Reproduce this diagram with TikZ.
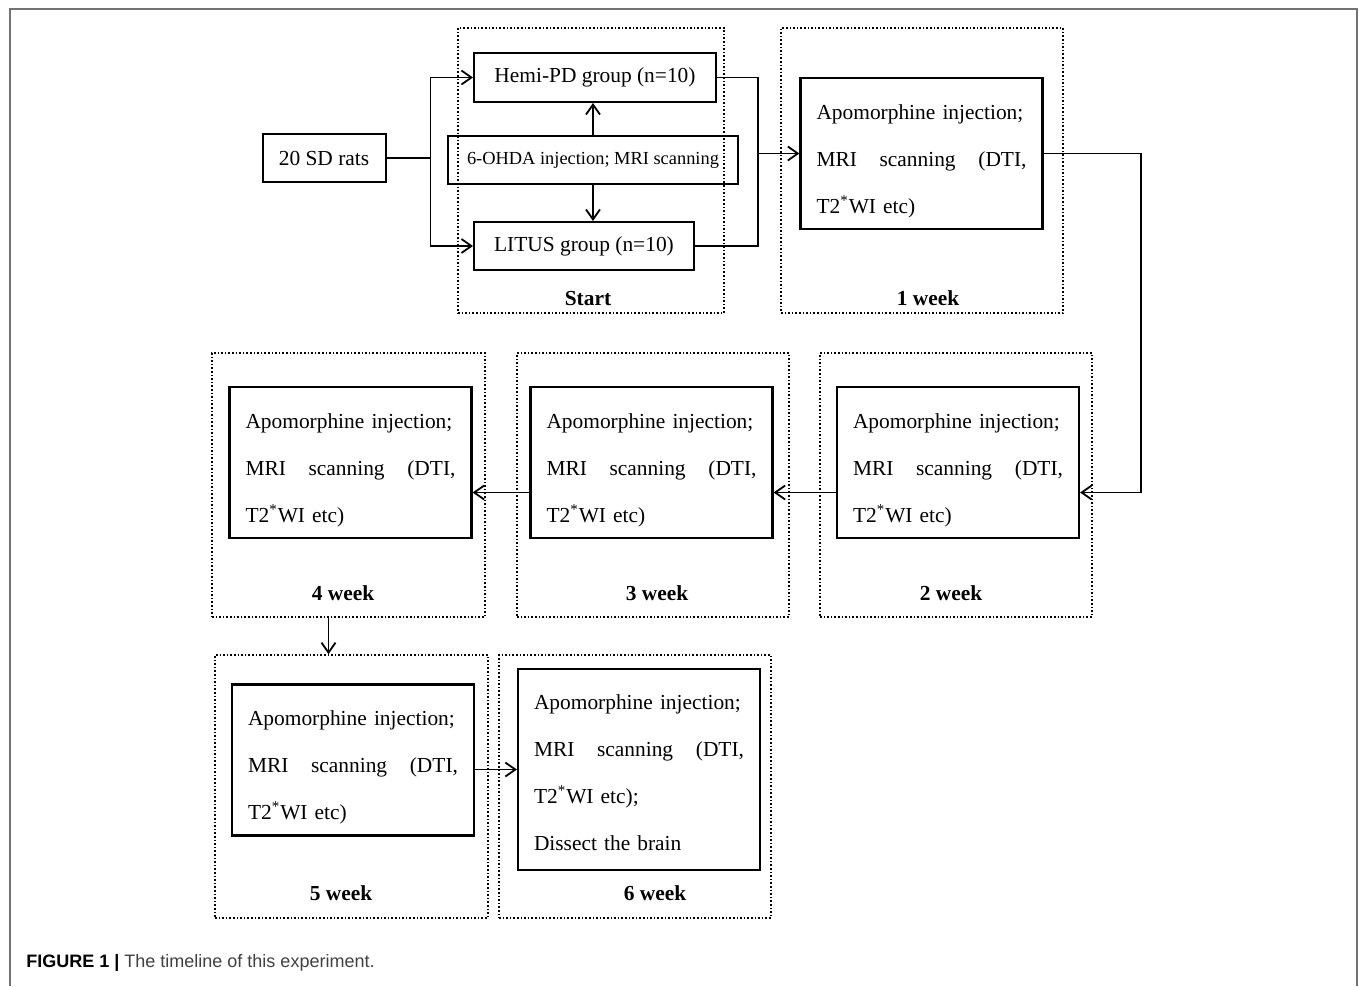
\documentclass[tikz,border=0pt]{standalone}
\usepackage{fontspec}
\setmainfont{Liberation Serif}
\setsansfont{Liberation Sans}
\usetikzlibrary{positioning,calc,arrows.meta}

\newcommand{\scantext}{\rule{0pt}{15pt}Apomorphine injection;\\ MRI\hfill scanning\hfill (DTI,\\ T2\textsuperscript{*}WI etc)}

\begin{document}
\begin{tikzpicture}[x=0.5pt,y=-0.5pt,
				box/.style={
					draw, line width=1pt, align=center,
					inner sep=0pt, minimum height=24pt,
					font=\fontsize{10.7}{13}\selectfont,
				},
				wkbox/.style={
					draw, line width=1.1pt, align=left,
					text width=105pt, inner xsep=8pt,
					minimum height=75.5pt,
					font=\fontsize{10.7}{23.5}\selectfont,
				},
				stage/.style={draw, densely dotted, line width=0.8pt, inner sep=0pt},
				lbl/.style={font=\fontsize{10.7}{13}\selectfont\bfseries, anchor=base, inner sep=0pt},
				arr/.style={-{Straight Barb[length=5pt,width=7pt]}, line width=0.9pt},
				]
				\useasboundingbox (0,0) rectangle (1359,986);
				\draw[black!55, line width=1pt] (10,986) -- (10,9) -- (1357,9) -- (1357,986);
				
				% dotted frames
				\node[stage, minimum width=133pt, minimum height=142.5pt] (f0) at (591,170.5) {};
				\node[stage, minimum width=141pt, minimum height=142.5pt] (f1) at (922,170.5) {};
				\node[stage, minimum width=136pt, minimum height=132pt] (f2) at (956,485) {};
				\node[stage, minimum width=136pt, minimum height=132pt] (f3) at (653,485) {};
				\node[stage, minimum width=136.5pt, minimum height=132pt] (f4) at (348.5,485) {};
				\node[stage, minimum width=136.5pt, minimum height=131.5pt] (f5) at (351.5,786.5) {};
				\node[stage, minimum width=136pt, minimum height=131.5pt] (f6) at (635,786.5) {};
				
				\node[box, minimum width=61.5pt] (rats) at (324,158) {20 SD rats};
				\node[box, minimum width=121pt, minimum height=24.5pt] (hemi) at (595,77.5) {Hemi-PD group (n=10)};
				\node[box, minimum width=145pt, font=\fontsize{9.2}{11}\selectfont] (ohda) at (593,160) {6-OHDA injection; MRI scanning};
				\node[box, minimum width=110pt] (litus) at (584,246) {LITUS group (n=10)};
				
				\node[wkbox] (wk1) at (921.5,153.5) {\scantext};
				\node[wkbox] (wk2) at (958,462.5) {\scantext};
				\node[wkbox] (wk3) at (651.5,462.5) {\scantext};
				\node[wkbox] (wk4) at (350.5,462.5) {\scantext};
				\node[wkbox] (wk5) at (353,760) {\scantext};
				\node[wkbox, minimum height=100.5pt] (wk6) at (639,769.5)
				{\rule{0pt}{10.5pt}Apomorphine injection;\\ MRI\hfill scanning\hfill (DTI,\\ T2\textsuperscript{*}WI etc);\\ Dissect the brain};
				
				\node[lbl] (l0) at (588,305) {Start};
				\node[lbl] (l1) at (928,305) {1 week};
				\node[lbl] (l2) at (951,600) {2 week};
				\node[lbl] (l3) at (657,600) {3 week};
				\node[lbl] (l4) at (343,600) {4 week};
				\node[lbl] (l5) at (341,900) {5 week};
				\node[lbl] (l6) at (655,900) {6 week};
				
				\node[anchor=base west, inner sep=0pt, text=black!75,
				font=\sffamily\fontsize{9}{10}\selectfont] (cap) at (26,967)
				{\textcolor{black}{\textbf{FIGURE 1 |}} The timeline of this experiment.};
				
				% connectors
				\draw[line width=0.9pt] (rats.east) -- ++(22pt,0) coordinate (split);
				\draw[arr] (split) |- (hemi.west);
				\draw[arr] (split) |- (litus.west);
				\draw[arr] (ohda.north) -- (ohda.north |- hemi.south);
				\draw[arr] (ohda.south) -- (ohda.south |- litus.north);
				\draw[line width=0.9pt] (hemi.east) -- ++(20.5pt,0) coordinate (merge) |- (litus.east);
				\draw[arr] (merge |- wk1.west) -- (wk1.west);
				\draw[arr] (wk1.east) -- ++(48.5pt,0) |- ([yshift=-15pt]wk2.east);
				\draw[arr] ([yshift=-15pt]wk2.west) -- ([yshift=-15pt]wk3.east);
				\draw[arr] ([yshift=-15pt]wk3.west) -- ([yshift=-15pt]wk4.east);
				\draw[arr] ([xshift=-10pt]f4.south) -- ([xshift=-10pt]f4.south |- f5.north);
				\draw[arr] (wk5.east |- wk6.west) -- (wk6.west);
			\end{tikzpicture}
\end{document}
